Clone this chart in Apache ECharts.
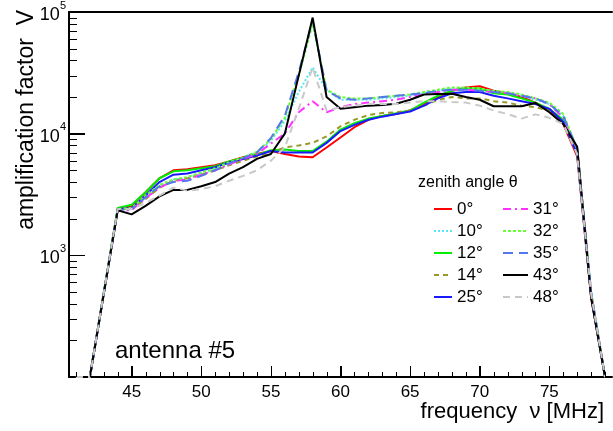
<!DOCTYPE html>
<html>
<head>
<meta charset="utf-8">
<script src="https://cdn.jsdelivr.net/npm/echarts@6/dist/echarts.min.js"></script>
<style>html,body{margin:0;padding:0;background:#fff}#c{width:613px;height:431px}</style>
</head>
<body>
<div id="c"></div>
<script>
var freq = [41,42,44,45,46,47,48,49,50,51,52,53,54,55,56,57,58,59,60,61,62,63,64,65,66,67,68,69,70,71,72,73,74,75,76,77,78,79];
var a0  = [100,100,2400,2550,3300,4300,5000,5100,5300,5500,5900,6400,6800,7200,6800,6500,6400,7700,9300,11300,13000,14000,14500,15500,17500,20000,22500,24000,24500,22500,21500,20000,18000,15500,12000,6500,450,100];
var a10 = [100,100,2350,2400,3000,3700,4200,4300,4700,5100,5700,6300,7000,8700,12700,22000,35000,23000,19000,19000,19000,19500,20000,20500,21500,22500,23500,23500,23000,22500,21500,20500,19000,17500,14000,7500,500,100];
var a12 = [100,100,2450,2600,3300,4300,4900,5000,5200,5400,5900,6300,6700,7300,7400,7200,7200,8600,10800,12200,13300,14000,14700,15500,18000,20500,22500,23500,23500,21500,21000,19500,18000,16000,13000,7000,480,100];
var a14 = [100,100,2450,2400,2900,3600,4100,4300,4600,5000,5500,6000,6500,7000,7700,8000,8400,9500,11500,13000,14200,14800,15000,15500,17000,19000,20000,19500,19500,18500,18000,17000,16500,15500,12000,6800,460,100];
var a25 = [100,100,2400,2450,3100,4000,4600,4700,5000,5300,5800,6200,6600,7200,7000,7000,7000,8400,10500,11800,13000,13800,14500,15200,17000,19500,21500,22000,22000,20500,19500,18500,17500,16000,12500,6800,460,100];
var a31 = [100,100,2350,2350,2950,3600,4100,4200,4600,5000,5600,6200,6800,8300,10000,15000,18500,15000,16500,17500,18000,18500,19000,20000,21000,22000,23000,23000,22500,22000,21500,20500,19500,17500,13500,7500,500,100];
var a32 = [100,100,2400,2450,3100,3800,4200,4400,4800,5200,5800,6400,7100,9000,13500,30000,80000,23000,20000,19500,19500,20000,20500,21000,22000,23000,24000,24000,23500,22500,22000,21000,19500,18000,14500,7500,500,100];
var a35 = [100,100,2350,2400,3000,3700,4000,4100,4500,5000,5700,6300,7000,9200,14000,32000,85000,22500,19500,19000,19500,20000,20500,21000,21500,22500,23000,23000,22500,22000,21500,20500,19500,17500,14000,7500,500,100];
var a43 = [100,100,2350,2170,2550,3050,3450,3450,3700,4000,4700,5300,6200,6800,10000,30000,90000,20000,16000,16500,17000,17200,17600,19000,21000,21200,21300,20000,19000,16800,16800,16800,17900,15000,12000,7800,450,100];
var a48 = [100,100,2400,2400,2700,3100,3600,3400,3500,3700,4100,4500,5000,6000,7700,16000,35000,15500,16500,17000,17500,17500,17500,18000,18500,18500,18200,18000,17000,15500,14500,13300,14400,13500,12000,6800,480,100];

var xMajor = [45,50,55,60,65,70,75];
var xMinor = [41,42,43,44,46,47,48,49,51,52,53,54,56,57,58,59,61,62,63,64,66,67,68,69,71,72,73,74,76,77,78,79];
var yMajor = [1000,10000,100000];
var yMinor = [200,300,400,500,600,700,800,900,2000,3000,4000,5000,6000,7000,8000,9000,20000,30000,40000,50000,60000,70000,80000,90000];
var X_MIN = 40.5, X_MAX = 79.5, Y_MIN = 100, Y_MAX = 100000;

var FONT = 'Liberation Sans, Arial, sans-serif';
function pairs(v){ return freq.map(function(f,i){return [f, v[i]];}); }
function mk(name, data, color, type){
  return {name:name, type:'line', data:pairs(data), symbol:'none',
    lineStyle:{color:color, width:2, type:type},
    itemStyle:{opacity:0}};
}
var series = [
  mk('0°', a0, '#ff0000', 'solid'),
  mk('10°', a10, '#55e6f2', [2,2]),
  mk('12°', a12, '#00ee00', 'solid'),
  mk('14°', a14, '#99992a', [5,4]),
  mk('25°', a25, '#1a1aff', 'solid'),
  mk('31°', a31, '#ff33ff', [8,4,2,4]),
  mk('32°', a32, '#66ff33', [3,2]),
  mk('35°', a35, '#5577ee', [10,6]),
  mk('43°', a43, '#000000', 'solid'),
  mk('48°', a48, '#c8c8c8', [7,5])
];
var texts = [
  {id:'t1', type:'text', left:418, top:175, style:{text:'zenith angle θ', fontSize:16, fontFamily:FONT, fill:'#000'}},
  {id:'t2', type:'text', left:115, top:339, style:{text:'antenna #5', fontSize:24, fontFamily:FONT, fill:'#000'}},
  {id:'t3', type:'text', x:604, y:412, style:{text:'frequency  ν [MHz]', fontSize:22, fontFamily:FONT, fill:'#000', align:'right', verticalAlign:'middle'}},
  {id:'t4', type:'text', x:27, y:10, rotation:Math.PI/2, style:{text:'amplification factor  V', fontSize:23, fontFamily:FONT, fill:'#000', align:'right', verticalAlign:'middle'}}
];

var chart = echarts.init(document.getElementById('c'));
var option = {
  animation:false,
  grid:{left:69, right:1, top:6, bottom:54},
  xAxis:[
    {type:'value', min:X_MIN, max:X_MAX, position:'bottom',
     axisLine:{show:true, onZero:false, lineStyle:{color:'#000', width:2}},
     axisTick:{show:true, inside:true, length:11, customValues:xMajor, lineStyle:{color:'#000', width:1}},
     axisLabel:{customValues:xMajor, margin:7, color:'#000', fontSize:17, fontFamily:FONT},
     splitLine:{show:false}},
    {type:'value', min:X_MIN, max:X_MAX, position:'top',
     axisLine:{show:true, onZero:false, lineStyle:{color:'#000', width:2}},
     axisTick:{show:false}, axisLabel:{show:false}, splitLine:{show:false}}
  ],
  yAxis:[
    {type:'log', logBase:10, min:Y_MIN, max:Y_MAX, position:'left',
     axisLine:{show:true, onZero:false, lineStyle:{color:'#000', width:2}},
     axisTick:{show:true, inside:true, length:16, lineStyle:{color:'#000', width:1}},
     axisLabel:{customValues:yMajor, margin:3, color:'#000', fontFamily:FONT,
       formatter:function(v){ var e = Math.round(Math.log(v)/Math.LN10); return '{b|10}{e|' + e + '}'; },
       rich:{b:{fontSize:18, lineHeight:24, verticalAlign:'bottom', fontFamily:FONT, color:'#000'},
             e:{fontSize:11, lineHeight:12, verticalAlign:'top', fontFamily:FONT, color:'#000'}}},
     splitLine:{show:false}}
  ],
  legend:[
    {data:['0°','10°','12°','14°','25°'], orient:'vertical', left:428, top:193, itemWidth:18, itemHeight:10, itemGap:0,
     itemStyle:{opacity:0},
     textStyle:{fontSize:17, lineHeight:22, width:24, align:'right', color:'#000', fontFamily:FONT}, selectedMode:false},
    {data:['31°','32°','35°','43°','48°'], orient:'vertical', left:497, top:193, itemWidth:25, itemHeight:10, itemGap:0,
     itemStyle:{opacity:0},
     textStyle:{fontSize:17, lineHeight:22, color:'#000', fontFamily:FONT}, selectedMode:false}
  ],
  graphic:texts,
  series:series
};
try { chart.setOption(option); } catch (e) {}

// inner tick marks, placed through the chart's own axis scales
function px(v){ return chart.convertToPixel({xAxisIndex:0}, v); }
function py(v){ return chart.convertToPixel({yAxisIndex:0}, v); }
var x0 = px(X_MIN), yb = py(Y_MIN);
var ticks = [];
function tx(list, len){ list.forEach(function(v, i){ var x = Math.round(px(v)) + 0.5;
  ticks.push({type:'line', z:100, shape:{x1:x, y1:yb, x2:x, y2:yb - len}, style:{stroke:'#000', lineWidth:1}}); }); }
function ty(list, len){ list.forEach(function(v, i){ var y = Math.round(py(v)) + 0.5;
  ticks.push({type:'line', z:100, shape:{x1:x0, y1:y, x2:x0 + len, y2:y}, style:{stroke:'#000', lineWidth:1}}); }); }
tx(xMajor, 11); tx(xMinor, 5); ty(yMajor, 16); ty(yMinor, 8);
try { chart.setOption({graphic: texts.concat(ticks)}); } catch (e) {}
</script>
</body>
</html>
